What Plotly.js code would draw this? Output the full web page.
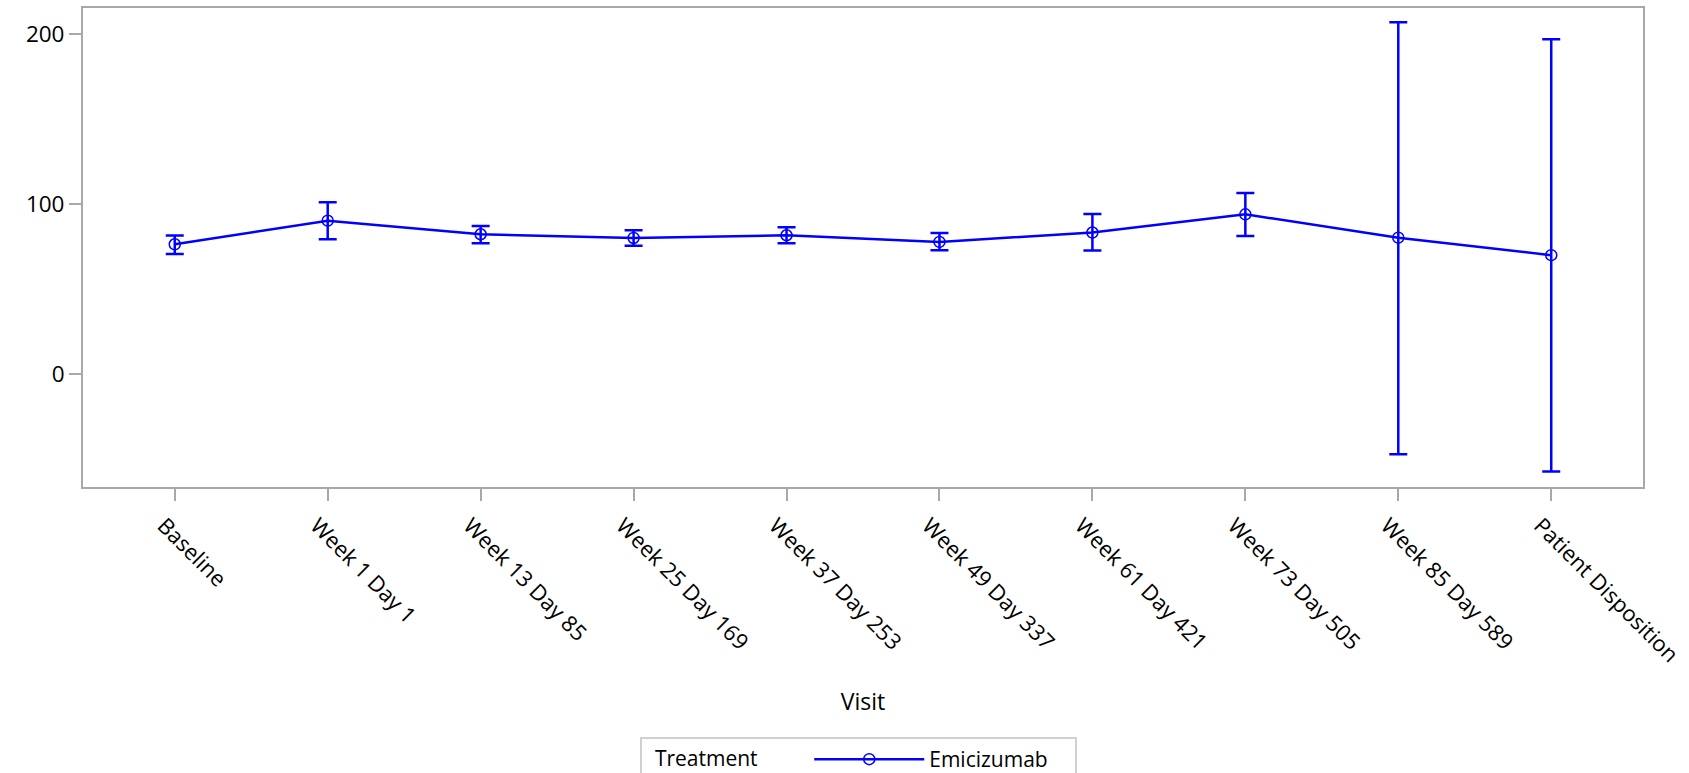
<!DOCTYPE html>
<html>
<head>
<meta charset="utf-8">
<script src="https://cdn.plot.ly/plotly-3.0.1.min.js"></script>
<style>html,body{margin:0;padding:0;background:#fff;}#chart{width:1689px;height:773px;}</style>
</head>
<body>
<div id="chart"></div>
<script>
const categories = ['Baseline','Week 1 Day 1','Week 13 Day 85','Week 25 Day 169','Week 37 Day 253','Week 49 Day 337','Week 61 Day 421','Week 73 Day 505','Week 85 Day 589','Patient Disposition'];
const meanValues = [76.3, 90.2, 82.2, 80.0, 81.6, 77.7, 83.2, 93.9, 80.2, 69.9];
const upperValues = [81.4, 101.0, 87.1, 84.6, 86.3, 83.0, 94.1, 106.5, 206.9, 196.9];
const lowerValues = [70.6, 79.3, 76.9, 75.5, 76.9, 72.8, 72.6, 81.2, -47.2, -57.4];
const yTicks = [0, 100, 200];
const seriesName = 'Emicizumab';
const legendTitle = 'Treatment';

const FONT = '"Open Sans", "Noto Sans", sans-serif';
const BLUE = '#0000ff';
const AXIS = '#a8a8a8';
const NB = '\u00a0';

const trace = {
  type: 'scatter',
  mode: 'lines+markers',
  name: seriesName,
  x: categories,
  y: meanValues,
  line: {color: BLUE, width: 2.5},
  marker: {symbol: 'circle-open', size: 11, color: BLUE, line: {color: BLUE, width: 1.5}},
  error_y: {
    type: 'data',
    symmetric: false,
    array: upperValues.map((u, i) => u - meanValues[i]),
    arrayminus: meanValues.map((m, i) => m - lowerValues[i]),
    color: BLUE,
    thickness: 2.5,
    width: 9
  }
};

const layout = {
  width: 1689,
  height: 773,
  margin: {l: 83, r: 46, t: 8, b: 286},
  paper_bgcolor: '#fff',
  plot_bgcolor: '#fff',
  font: {family: FONT, size: 22, color: '#000'},
  showlegend: true,
  xaxis: {
    type: 'category',
    range: [-0.6, 9.6],
    showline: true, mirror: true, linecolor: AXIS, linewidth: 2,
    showgrid: false, zeroline: false,
    ticks: 'outside', ticklen: 12, tickwidth: 2, tickcolor: AXIS,
    tickangle: 45,
    ticklabelshift: -11,
    ticklabelstandoff: 3,
    tickfont: {family: FONT, size: 22, color: '#000'},
    title: {text: 'Visit', font: {family: FONT, size: 23, color: '#000'}, standoff: 27}
  },
  yaxis: {
    range: [-66.5, 215.3],
    tickvals: yTicks,
    showline: true, mirror: true, linecolor: AXIS, linewidth: 2,
    showgrid: false, zeroline: false,
    ticks: 'outside', ticklen: 12, tickwidth: 2, tickcolor: AXIS,
    tickfont: {family: FONT, size: 22.5, color: '#000'}
  },
  legend: {
    orientation: 'h',
    xref: 'container', yref: 'container',
    x: 640 / 1689, xanchor: 'left',
    y: (773 - 737) / 773, yanchor: 'top',
    bgcolor: '#fff',
    bordercolor: '#d0d0d0', borderwidth: 2,
    itemwidth: 110,
    entrywidth: 140,
    title: {text: NB + NB + legendTitle + NB.repeat(8), side: 'left', font: {family: FONT, size: 21, color: '#000'}},
    font: {family: FONT, size: 21, color: '#000'}
  }
};

Plotly.newPlot('chart', [trace], layout, {displayModeBar: false, staticPlot: true});
</script>
</body>
</html>
